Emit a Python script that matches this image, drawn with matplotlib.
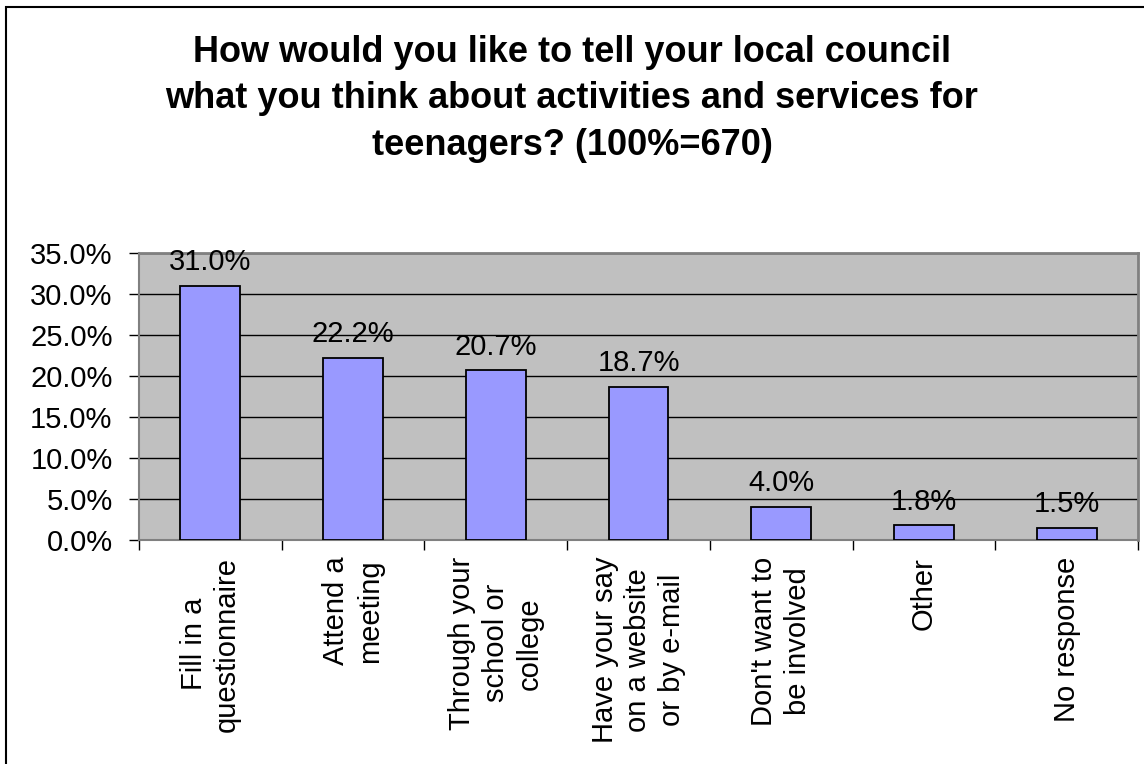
import numpy as np
import matplotlib
matplotlib.use("Agg")
import matplotlib.pyplot as plt
from matplotlib.patches import Rectangle
from matplotlib.ticker import FuncFormatter, MultipleLocator

plt.rcParams["font.family"] = ["Liberation Sans", "DejaVu Sans"]

categories = ["Fill in a\nquestionnaire", "Attend a\nmeeting",
              "Through your\nschool or\ncollege",
              "Have your say\non a website\nor by e-mail",
              "Don't want to\nbe involved", "Other", "No response"]
values = [31.0, 22.2, 20.7, 18.7, 4.0, 1.8, 1.5]
title = ("How would you like to tell your local council\n"
         "what you think about activities and services for\n"
         "teenagers? (100%=670)")

W, H = 1144, 764
fig = plt.figure(figsize=(W / 100, H / 100), dpi=100)
fig.patch.set_facecolor("white")

# outer chart border (right/bottom run off the picture)
fig.patches.append(Rectangle((6 / W, -0.01), 1.02, 1 - 7 / H + 0.01,
                             transform=fig.transFigure, fill=False,
                             edgecolor="black", lw=1.5, zorder=0))

ax = fig.add_axes([139 / W, (H - 540) / H, (1138 - 139) / W, (540 - 253) / H])
ax.set_facecolor("#C0C0C0")
x = np.arange(len(values))
ax.bar(x, values, width=0.42, color="#9999FF", edgecolor="black",
       linewidth=1.3, zorder=3)
for xi, v in zip(x, values):
    ax.annotate(f"{v:.1f}%", (xi, v), xytext=(0, 7), textcoords="offset points",
                ha="center", va="bottom", fontsize=21, zorder=4)

ax.set_xlim(-0.5, len(values) - 0.5)
ax.set_ylim(0, 35)
ax.yaxis.set_major_locator(MultipleLocator(5))
ax.yaxis.set_major_formatter(FuncFormatter(lambda v, p: f"{v:.1f}%"))
ax.grid(axis="y", color="black", lw=1, zorder=1)
ax.tick_params(axis="y", labelsize=21, length=7, width=1, direction="out", pad=12)

ax.set_xticks(np.arange(len(values) + 1) - 0.5)
ax.set_xticklabels([])
ax.tick_params(axis="x", length=7, width=1, direction="out")
ax.set_xticks(x, minor=True)
ax.set_xticklabels(categories, minor=True, rotation=90, fontsize=21,
                   ha="center", va="top", multialignment="center",
                   linespacing=1.25)
ax.tick_params(axis="x", which="minor", length=0, pad=12)

for s in ["top", "right"]:
    ax.spines[s].set_color("#808080")
    ax.spines[s].set_linewidth(2)
for s in ["left", "bottom"]:
    ax.spines[s].set_color("#808080")
    ax.spines[s].set_linewidth(1.5)

fig.text(0.5, 1 - 99 / H, title, ha="center", va="center", fontsize=26,
         fontweight="bold", linespacing=1.42)

fig.savefig("out.png", dpi=100)
